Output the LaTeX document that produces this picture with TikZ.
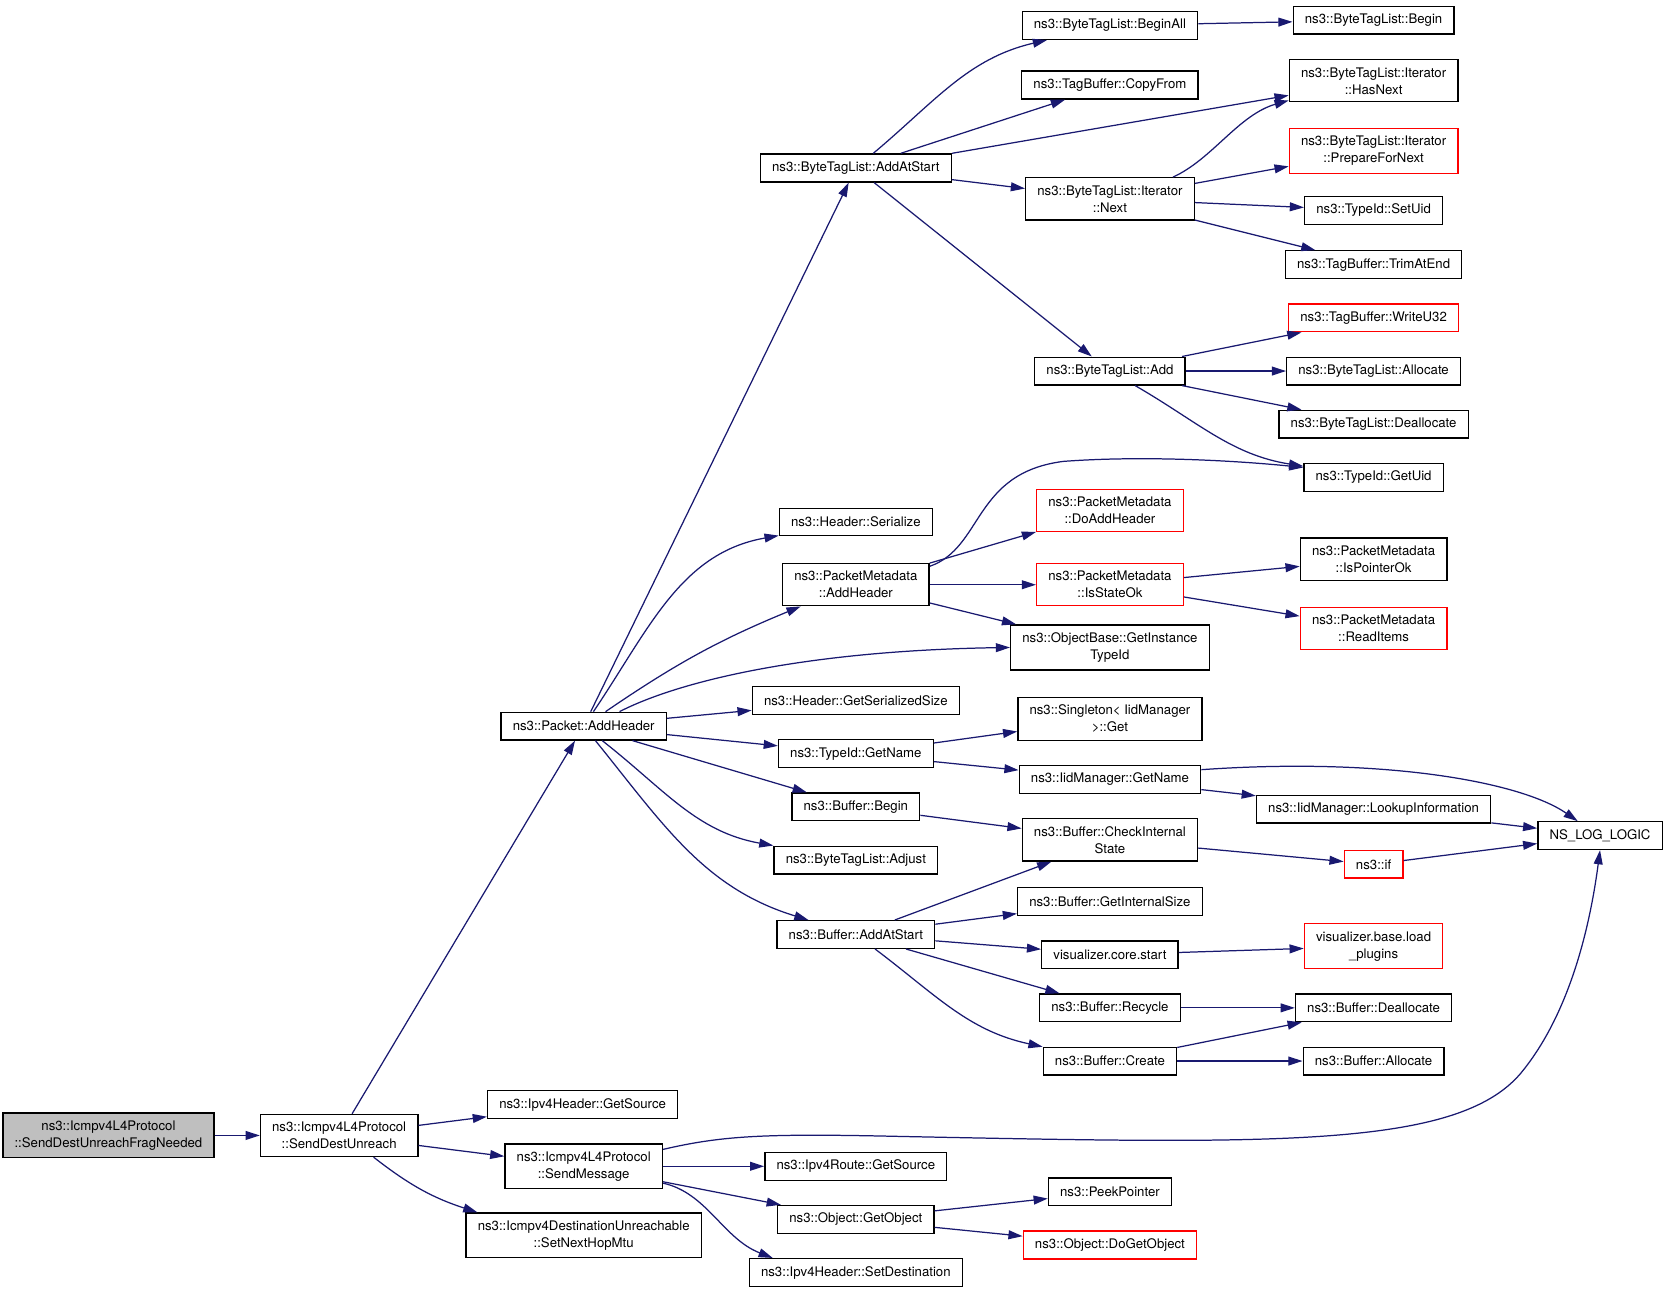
\documentclass[tikz,border=0pt]{standalone}
\usepackage{fontspec}
\setmainfont{TeX Gyre Heros}
\usetikzlibrary{arrows.meta}
\definecolor{callblue}{HTML}{191970}
\definecolor{rootgray}{HTML}{BFBFBF}
\tikzset{
  fn/.style={draw=black, line width=0.75pt, fill=white, align=center,
    font=\fontsize{7.45}{9.6}\selectfont, inner xsep=6.6pt, inner ysep=4.3pt,
    minimum height=15.6pt},
  fnred/.style={fn, draw=red},
  fnroot/.style={fn, fill=rootgray},
  call/.style={draw=callblue, line width=0.7pt, -{Triangle[length=8pt,width=5pt]}}
}
\begin{document}
\begin{tikzpicture}[x=0.6pt,y=-0.6pt]
    \useasboundingbox (0,0) rectangle (1568,1216);

    % Root and first level
    \node[fnroot] (frag) at (102,1068) {ns3::Icmpv4L4Protocol\\::SendDestUnreachFragNeeded};
    \node[fn] (sdu) at (319,1068) {ns3::Icmpv4L4Protocol\\::SendDestUnreach};

    % Second level
    \node[fn] (pktadd) at (549,683) {ns3::Packet::AddHeader};
    \node[fn] (ipv4src) at (548,1039) {ns3::Ipv4Header::GetSource};
    \node[fn] (sendmsg) at (549,1097) {ns3::Icmpv4L4Protocol\\::SendMessage};
    \node[fn] (nexthop) at (549,1162) {ns3::Icmpv4DestinationUnreachable\\::SetNextHopMtu};

    % Third level
    \node[fn] (btladdstart) at (805,158) {ns3::ByteTagList::AddAtStart};
    \node[fn] (hdrser) at (805,491) {ns3::Header::Serialize};
    \node[fn] (pmaddhdr) at (805,550) {ns3::PacketMetadata\\::AddHeader};
    \node[fn] (hdrsize) at (805,659) {ns3::Header::GetSerializedSize};
    \node[fn] (tidname) at (805,709) {ns3::TypeId::GetName};
    \node[fn] (bufbegin) at (805,759) {ns3::Buffer::Begin};
    \node[fn] (btladjust) at (805,809) {ns3::ByteTagList::Adjust};
    \node[fn] (bufaddstart) at (805,879) {ns3::Buffer::AddAtStart};
    \node[fn] (routesrc) at (805,1097) {ns3::Ipv4Route::GetSource};
    \node[fn] (getobj) at (805,1147) {ns3::Object::GetObject};
    \node[fn] (setdest) at (805,1197) {ns3::Ipv4Header::SetDestination};

    % Fourth level
    \node[fn] (beginall) at (1044,24) {ns3::ByteTagList::BeginAll};
    \node[fn] (copyfrom) at (1044,80) {ns3::TagBuffer::CopyFrom};
    \node[fn] (itnext) at (1044,187) {ns3::ByteTagList::Iterator\\::Next};
    \node[fn] (btladd) at (1044,349) {ns3::ByteTagList::Add};
    \node[fnred] (doaddhdr) at (1044,480) {ns3::PacketMetadata\\::DoAddHeader};
    \node[fnred] (isstateok) at (1044,550) {ns3::PacketMetadata\\::IsStateOk};
    \node[fn] (insttid) at (1044,609) {ns3::ObjectBase::GetInstance\\TypeId};
    \node[fn] (singleton) at (1044,676) {ns3::Singleton< IidManager\\ >::Get};
    \node[fn] (iidname) at (1044,733) {ns3::IidManager::GetName};
    \node[fn] (checkstate) at (1044,790) {ns3::Buffer::CheckInternal\\State};
    \node[fn] (intsize) at (1044,848) {ns3::Buffer::GetInternalSize};
    \node[fn] (corestart) at (1044,898) {visualizer.core.start};
    \node[fn] (recycle) at (1044,948) {ns3::Buffer::Recycle};
    \node[fn] (create) at (1044,998) {ns3::Buffer::Create};
    \node[fn] (peek) at (1044,1121) {ns3::PeekPointer};
    \node[fnred] (dogetobj) at (1044,1171) {ns3::Object::DoGetObject};

    % Fifth level
    \node[fn] (btlbegin) at (1292,19) {ns3::ByteTagList::Begin};
    \node[fn] (hasnext) at (1292,76) {ns3::ByteTagList::Iterator\\::HasNext};
    \node[fnred] (prepnext) at (1292,142) {ns3::ByteTagList::Iterator\\::PrepareForNext};
    \node[fn] (setuid) at (1292,198) {ns3::TypeId::SetUid};
    \node[fn] (trimend) at (1292,249) {ns3::TagBuffer::TrimAtEnd};
    \node[fnred] (writeu32) at (1292,299) {ns3::TagBuffer::WriteU32};
    \node[fn] (btlalloc) at (1292,349) {ns3::ByteTagList::Allocate};
    \node[fn] (btldealloc) at (1292,399) {ns3::ByteTagList::Deallocate};
    \node[fn] (getuid) at (1292,449) {ns3::TypeId::GetUid};
    \node[fn] (isptrok) at (1292,526) {ns3::PacketMetadata\\::IsPointerOk};
    \node[fnred] (readitems) at (1292,591) {ns3::PacketMetadata\\::ReadItems};
    \node[fn] (lookup) at (1292,761) {ns3::IidManager::LookupInformation};
    \node[fnred] (nsif) at (1292,813) {ns3::if};
    \node[fnred] (loadplug) at (1292,890) {visualizer.base.load\\\_plugins};
    \node[fn] (bufdealloc) at (1292,948) {ns3::Buffer::Deallocate};
    \node[fn] (bufalloc) at (1292,998) {ns3::Buffer::Allocate};
    \node[fn] (nslog) at (1505,786) {NS\_LOG\_LOGIC};

    % Calls of the root
    \draw[call] (frag) -- (sdu);
    \draw[call] (sdu) -- (pktadd);
    \draw[call] (sdu) -- (ipv4src);
    \draw[call] (sdu) -- (sendmsg);
    \draw[call] (sdu) to[bend right=10] (nexthop);

    % Packet::AddHeader
    \draw[call] (pktadd) -- (btladdstart);
    \draw[call] (pktadd) to[out=56,in=190] (hdrser);
    \draw[call] (pktadd) to[bend left=6] (pmaddhdr);
    \draw[call] (pktadd.22) .. controls (640,640) and (760,612) .. (insttid.west);
    \draw[call] (pktadd) -- (hdrsize);
    \draw[call] (pktadd) -- (tidname);
    \draw[call] (pktadd) -- (bufbegin);
    \draw[call] (pktadd) to[out=-38,in=170] (btladjust);
    \draw[call] (pktadd) to[out=-51,in=163] (bufaddstart);

    % ByteTagList::AddAtStart
    \draw[call] (btladdstart) to[out=40,in=193] (beginall);
    \draw[call] (btladdstart) -- (copyfrom);
    \draw[call] (btladdstart.north east) -- (hasnext);
    \draw[call] (btladdstart) -- (itnext);
    \draw[call] (btladdstart) -- (btladd);
    \draw[call] (beginall) -- (btlbegin);
    \draw[call] (itnext.19) .. controls (1140,150) and (1165,108) .. (hasnext.193);
    \draw[call] (itnext) -- (prepnext);
    \draw[call] (itnext) -- (setuid);
    \draw[call] (itnext) -- (trimend);
    \draw[call] (btladd) -- (writeu32);
    \draw[call] (btladd) -- (btlalloc);
    \draw[call] (btladd) -- (btldealloc);
    \draw[call] (btladd) to[out=-30,in=171] (getuid);

    % PacketMetadata::AddHeader
    \draw[call] (pmaddhdr.14) .. controls (925,515) and (915,445) .. (1000,434)
        .. controls (1080,428) and (1170,434) .. (getuid.172);
    \draw[call] (pmaddhdr) -- (doaddhdr);
    \draw[call] (pmaddhdr) -- (isstateok);
    \draw[call] (pmaddhdr) -- (insttid);
    \draw[call] (isstateok) -- (isptrok);
    \draw[call] (isstateok) -- (readitems);

    % TypeId::GetName
    \draw[call] (tidname) -- (singleton);
    \draw[call] (tidname) -- (iidname);
    \draw[call] (iidname.6) .. controls (1300,712) and (1430,735) .. (nslog.147);
    \draw[call] (iidname) -- (lookup);
    \draw[call] (lookup) -- (nslog);

    % Buffer
    \draw[call] (bufbegin) -- (checkstate);
    \draw[call] (checkstate) -- (nsif);
    \draw[call] (nsif) -- (nslog);
    \draw[call] (bufaddstart) -- (checkstate);
    \draw[call] (bufaddstart) -- (intsize);
    \draw[call] (bufaddstart) -- (corestart);
    \draw[call] (bufaddstart) -- (recycle);
    \draw[call] (bufaddstart) to[out=-37,in=168] (create);
    \draw[call] (corestart) -- (loadplug);
    \draw[call] (recycle) -- (bufdealloc);
    \draw[call] (create) -- (bufdealloc);
    \draw[call] (create) -- (bufalloc);

    % SendMessage
    \draw[call] (sendmsg.12) .. controls (680,1068) and (720,1066) .. (850,1069)
        .. controls (1200,1076) and (1370,1080) .. (1430,1010)
        .. controls (1480,950) and (1497,860) .. (nslog.south);
    \draw[call] (sendmsg) -- (routesrc);
    \draw[call] (sendmsg) -- (getobj);
    \draw[call] (sendmsg.-12) .. controls (665,1122) and (680,1165) .. (setdest.170);
    \draw[call] (getobj) -- (peek);
    \draw[call] (getobj) -- (dogetobj);
\end{tikzpicture}
\end{document}
